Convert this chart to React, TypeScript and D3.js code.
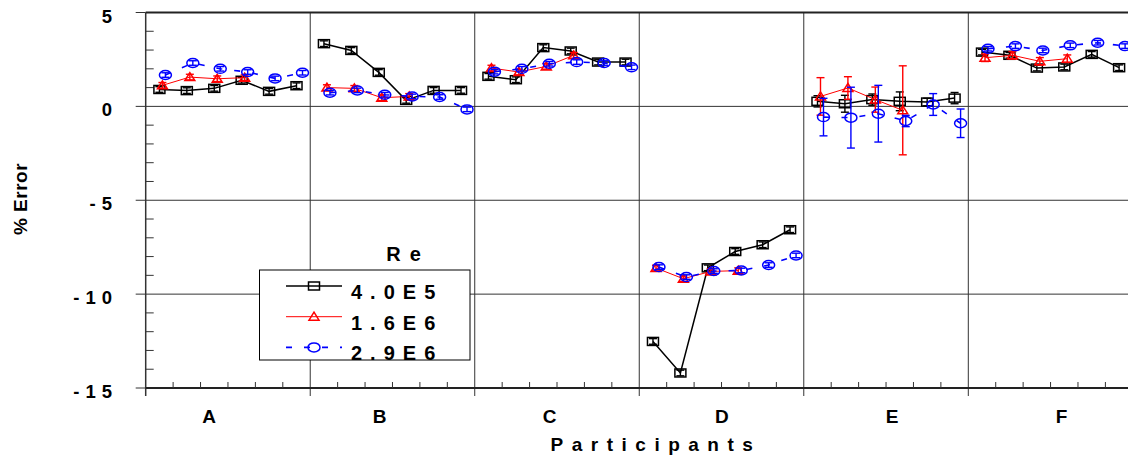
import * as d3 from 'd3';

// participants and per-participant readings (6 runs each)
const participants = ['A', 'B', 'C', 'D', 'E', 'F'];
const labelPos = [2.31, 8.53, 14.73, 21.01, 27.22, 33.4];

const re40E5 = [
    0.90, 0.84, 0.96, 1.39, 0.80, 1.10,
    3.34, 2.98, 1.81, 0.32, 0.85, 0.85,
    1.60, 1.42, 3.13, 2.95, 2.36, 2.36,
    -12.52, -14.20, -8.60, -7.73, -7.37, -6.57,
    0.27, 0.14, 0.36, 0.27, 0.23, 0.44,
    2.89, 2.72, 2.04, 2.10, 2.77, 2.06,
];
const re40E5Err = [
    0.15, 0.15, 0.15, 0.15, 0.15, 0.15,
    0.15, 0.15, 0.15, 0.15, 0.15, 0.15,
    0.15, 0.15, 0.15, 0.15, 0.15, 0.15,
    0.15, 0.15, 0.15, 0.15, 0.15, 0.15,
    0.3, 0.45, 0.3, 0.5, 0.2, 0.3,
    0.15, 0.15, 0.15, 0.15, 0.15, 0.15,
];

const re16E6 = [
    1.12, 1.56, 1.47, 1.53, null, null,
    1.00, 0.96, 0.46, 0.53, null, null,
    2.04, 1.83, 2.13, 2.72, null, null,
    -8.61, -9.18, -8.79, -8.75, null, null,
    0.53, 0.98, 0.36, -0.21, null, null,
    2.59, 2.72, 2.40, 2.54, null, null,
];
const re16E6Err = [
    0.15, 0.15, 0.15, 0.15, 0, 0,
    0.15, 0.15, 0.15, 0.15, 0, 0,
    0.15, 0.15, 0.15, 0.15, 0, 0,
    0.15, 0.15, 0.15, 0.15, 0, 0,
    1.0, 0.6, 0.67, 2.37, 0, 0,
    0.2, 0.2, 0.2, 0.2, 0, 0,
];

const re29E6 = [
    1.67, 2.31, 2.00, 1.83, 1.49, 1.79,
    0.73, 0.85, 0.62, 0.53, 0.50, -0.16,
    1.85, 2.00, 2.27, 2.36, 2.31, 2.08,
    -8.56, -9.09, -8.77, -8.74, -8.45, -7.94,
    -0.57, -0.60, -0.39, -0.78, 0.10, -0.90,
    3.07, 3.21, 2.98, 3.25, 3.39, 3.21,
];
const re29E6Err = [
    0.12, 0.12, 0.12, 0.12, 0.12, 0.12,
    0.12, 0.12, 0.12, 0.12, 0.12, 0.12,
    0.12, 0.12, 0.12, 0.12, 0.12, 0.12,
    0.12, 0.12, 0.12, 0.12, 0.12, 0.12,
    1.0, 1.62, 1.51, 0.3, 0.58, 0.76,
    0.12, 0.12, 0.12, 0.12, 0.12, 0.12,
];

const seriesNames = ['4.0E5', '1.6E6', '2.9E6'];
const yTicks = [5, 0, -5, -10, -15];

const W = 1128;
const H = 459;
const FONT = "'Liberation Sans', Arial, sans-serif";

type Pt = { i: number; v: number; e: number };

function toPoints(vals: (number | null)[], errs: number[]): Pt[][] {
    // one polyline per participant
    return participants.map((_, p) => {
        const out: Pt[] = [];
        for (let k = 0; k < 6; k++) {
            const v = vals[p * 6 + k];
            if (v !== null) out.push({ i: p * 6 + k, v, e: errs[p * 6 + k] });
        }
        return out;
    });
}

export default function App() {
    const x = d3.scaleLinear().domain([0, 36]).range([145.7, 145.7 + 36 * 27.42]);
    const y = d3.scaleLinear().domain([-15, 5]).range([388, 12.5]);

    const series = [
        { name: seriesNames[0], color: '#000', pts: toPoints(re40E5, re40E5Err), dx: 0, width: 1.5, dash: undefined as string | undefined, shape: 'square' },
        { name: seriesNames[1], color: '#ff0000', pts: toPoints(re16E6, re16E6Err), dx: 3, width: 1, dash: undefined, shape: 'triangle' },
        { name: seriesNames[2], color: '#0000ff', pts: toPoints(re29E6, re29E6Err), dx: 6, width: 1.6, dash: '6,12', shape: 'circle' },
    ];

    const px = (i: number, dx: number) => x(i + 0.5) + dx;

    const marker = (shape: string, cx: number, cy: number, color: string, key: string) => {
        if (shape === 'square')
            return <rect key={key} x={cx - 5.5} y={cy - 4} width={11} height={8} fill="none" stroke={color} strokeWidth={1.5} />;
        if (shape === 'triangle')
            return <path key={key} d={`M${cx},${cy - 4.5}L${cx + 5},${cy + 3.5}L${cx - 5},${cy + 3.5}Z`} fill="none" stroke={color} strokeWidth={1.5} />;
        return <ellipse key={key} cx={cx} cy={cy} rx={6} ry={4.5} fill="none" stroke={color} strokeWidth={1.5} />;
    };

    const minorY = d3.range(-15, 6).filter(v => v % 5 !== 0);
    const minorX = d3.range(0, 37).filter(v => v % 6 !== 0);
    const majorX = d3.range(0, 37, 6);
    const line = d3.line<Pt>();

    return (
        <svg width={W} height={H} style={{ position: 'absolute', left: 0, top: 0, background: '#fff' }} fontFamily={FONT}>
            {/* grid */}
            {[0, -5, -10].map(v => (
                <line key={'gy' + v} x1={x(0)} x2={W} y1={y(v)} y2={y(v)} stroke="#333" strokeWidth={1} />
            ))}
            {majorX.map(i => (
                <line key={'gx' + i} x1={x(i)} x2={x(i)} y1={y(5)} y2={y(-15) + 8} stroke="#333" strokeWidth={i === 0 ? 1.5 : 1} />
            ))}
            <line x1={x(0)} x2={W} y1={y(5)} y2={y(5)} stroke="#222" strokeWidth={1.8} />
            <line x1={x(0)} x2={W} y1={y(-15)} y2={y(-15)} stroke="#222" strokeWidth={1.8} />

            {/* y ticks */}
            {minorY.map(v => (
                <line key={'my' + v} x1={x(0)} x2={x(0) + 8} y1={y(v)} y2={y(v)} stroke="#333" strokeWidth={1} />
            ))}
            {yTicks.map(v => (
                <g key={'ty' + v}>
                    <line x1={x(0) - 10} x2={x(0)} y1={y(v)} y2={y(v)} stroke="#333" strokeWidth={1} />
                    <text x={118} y={y(v) + 10} textAnchor="end" fontSize={18.5} fontWeight="bold" letterSpacing={6}>{String(v)}</text>
                </g>
            ))}

            {/* x ticks */}
            {minorX.map(i => (
                <line key={'mx' + i} x1={x(i)} x2={x(i)} y1={y(-15)} y2={y(-15) - 6} stroke="#333" strokeWidth={1} />
            ))}
            {participants.map((p, k) => (
                <text key={'px' + p} x={x(labelPos[k])} y={423} textAnchor="middle" fontSize={19} fontWeight="bold">{p}</text>
            ))}
            <text x={656} y={451} textAnchor="middle" fontSize={19} fontWeight="bold" letterSpacing={8.5}>Participants</text>
            <text transform={`translate(27,${199}) rotate(-90)`} textAnchor="middle" fontSize={19} fontWeight="bold" letterSpacing={0.5}>% Error</text>

            {/* series */}
            {series.map((s, si) => (
                <g key={'s' + si}>
                    {s.pts.map((pts, p) => (
                        <path key={'l' + p} d={line(pts.map(d => [px(d.i, s.dx), y(d.v)]))!} fill="none" stroke={s.color} strokeWidth={s.width} strokeDasharray={s.dash} />
                    ))}
                    {s.pts.flat().map(d => {
                        const cx = px(d.i, s.dx);
                        const y0 = y(d.v - d.e);
                        const y1 = y(d.v + d.e);
                        return (
                            <g key={'e' + d.i} stroke={s.color} strokeWidth={1.4}>
                                <line x1={cx} x2={cx} y1={y0} y2={y1} />
                                <line x1={cx - 4} x2={cx + 4} y1={y0} y2={y0} />
                                <line x1={cx - 4} x2={cx + 4} y1={y1} y2={y1} />
                            </g>
                        );
                    })}
                    {s.pts.flat().map(d => marker(s.shape, px(d.i, s.dx), y(d.v), s.color, 'm' + d.i))}
                </g>
            ))}

            {/* legend */}
            <text x={408} y={261} textAnchor="middle" fontSize={20} fontWeight="bold" letterSpacing={9}>Re</text>
            <rect x={259.5} y={270} width={210.5} height={90} fill="#fff" stroke="#000" strokeWidth={1} />
            {series.map((s, k) => {
                const ly = 286 + k * 30.7;
                return (
                    <g key={'lg' + k}>
                        <line x1={286} x2={342} y1={ly} y2={ly} stroke={s.color} strokeWidth={s.width} strokeDasharray={s.dash} />
                        {marker(s.shape, 314, ly, s.color, 'lm' + k)}
                        <text x={351} y={ly + 13} fontSize={20} fontWeight="bold" letterSpacing={8}>{s.name}</text>
                    </g>
                );
            })}
        </svg>
    );
}
